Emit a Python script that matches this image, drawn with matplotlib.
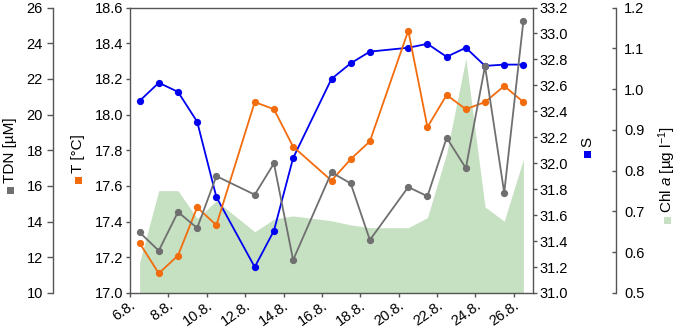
import matplotlib
matplotlib.use("Agg")
import matplotlib.pyplot as plt
from matplotlib.patches import Rectangle

plt.rcParams['font.family'] = ['Liberation Sans', 'DejaVu Sans']
plt.rcParams['mathtext.fontset'] = 'custom'
plt.rcParams['mathtext.rm'] = 'Liberation Sans'
plt.rcParams['mathtext.it'] = 'Liberation Sans:italic'

# sampling days (August), each plotted in the middle of its day slot
days = [6, 7, 8, 9, 10, 12, 13, 14, 16, 17, 18, 20, 21, 22, 23, 24, 25, 26]

salinity = [32.48, 32.62, 32.55, 32.32, 31.74, 31.20, 31.48, 32.04, 32.65,
            32.77, 32.86, 32.89, 32.92, 32.82, 32.89, 32.75, 32.76, 32.76]
temperature = [17.28, 17.11, 17.21, 17.48, 17.38, 18.07, 18.03, 17.82, 17.63,
               17.75, 17.85, 18.47, 17.93, 18.11, 18.03, 18.07, 18.16, 18.07]
tdn = [13.4, 12.37, 14.54, 13.64, 16.55, 15.51, 17.26, 11.85, 16.76,
       16.14, 12.97, 15.94, 15.42, 18.70, 17.00, 22.71, 15.62, 25.25]
chl = [0.575, 0.751, 0.751, 0.683, 0.726, 0.650, 0.681, 0.689, 0.677,
       0.667, 0.660, 0.660, 0.685, 0.842, 1.075, 0.711, 0.676, 0.828]

tick_days = [6, 8, 10, 12, 14, 16, 18, 20, 22, 24, 26]
tick_labels = [f"{d}.8." for d in tick_days]

C_BLUE = '#0000f0'
C_ORANGE = '#f26c0d'
C_GRAY = '#6f6f6f'
C_GREEN = '#c6e0c2'
C_SPINE = '#555555'

W, H = 680, 328
fig = plt.figure(figsize=(6.8, 3.28), dpi=100)
L, R, T, B = 130, 533, 7.5, 293
rect = [L / W, 1 - B / H, (R - L) / W, (B - T) / H]

ax_t = fig.add_axes(rect)
ax_chl = ax_t.twinx()
ax_s = ax_t.twinx()
ax_tdn = ax_t.twinx()

ax_chl.set_zorder(1)
ax_s.set_zorder(2)
ax_t.set_zorder(3)
ax_tdn.set_zorder(4)
for a in (ax_t, ax_chl, ax_s, ax_tdn):
    a.patch.set_visible(False)
    for sp in a.spines.values():
        sp.set_visible(False)
        sp.set_color(C_SPINE)
        sp.set_linewidth(1.0)

x = [d + 0.5 for d in days]
mk = dict(marker='o', markersize=4.2, linewidth=1.3)

ax_chl.fill_between(x, 0.5, chl, color=C_GREEN, linewidth=0)
ax_s.plot(x, salinity, color=C_BLUE, **mk)
ax_t.plot(x, temperature, color=C_ORANGE, **mk)
ax_tdn.plot(x, tdn, color=C_GRAY, **mk)

ax_t.set_xlim(6, 27)
ax_t.set_xticks(tick_days)
ax_t.set_xticklabels(tick_labels, rotation=35, ha='right', rotation_mode='anchor')

# T axis (left, inner)
ax_t.set_ylim(17.0, 18.6)
ax_t.set_yticks([17.0 + 0.2 * i for i in range(9)])
ax_t.yaxis.set_major_formatter(matplotlib.ticker.FormatStrFormatter('%.1f'))
ax_t.spines['left'].set_visible(True)
ax_t.spines['bottom'].set_visible(True)
ax_t.spines['top'].set_visible(True)
ax_t.tick_params(axis='y', direction='out', length=3, width=1, color=C_SPINE,
                 labelsize=10.5, pad=2)
ax_t.tick_params(axis='x', direction='out', length=3, width=1, color=C_SPINE,
                 labelsize=10.5, pad=1)

# TDN axis (left, outer)
ax_tdn.set_ylim(10, 26)
ax_tdn.set_yticks(range(10, 27, 2))
ax_tdn.yaxis.set_ticks_position('left')
ax_tdn.spines['left'].set_visible(True)
ax_tdn.spines['left'].set_position(('axes', (52.5 - L) / (R - L)))
ax_tdn.tick_params(axis='y', which='both', left=True, right=False,
                   labelleft=True, labelright=False, direction='out',
                   length=4, width=1, color=C_SPINE, labelsize=10.5, pad=3)

# S axis (right, inner)
ax_s.set_ylim(31.0, 33.2)
ax_s.set_yticks([31.0 + 0.2 * i for i in range(12)])
ax_s.yaxis.set_major_formatter(matplotlib.ticker.FormatStrFormatter('%.1f'))
ax_s.spines['right'].set_visible(True)
ax_s.tick_params(axis='y', direction='out', length=3, width=1, color=C_SPINE,
                 labelsize=10.5, pad=2)

# Chl a axis (right, outer)
ax_chl.set_ylim(0.5, 1.2)
ax_chl.set_yticks([0.5 + 0.1 * i for i in range(8)])
ax_chl.yaxis.set_major_formatter(matplotlib.ticker.FormatStrFormatter('%.1f'))
ax_chl.spines['right'].set_visible(True)
ax_chl.spines['right'].set_position(('axes', (616 - L) / (R - L)))
ax_chl.tick_params(axis='y', direction='in', length=3, width=1, color=C_SPINE,
                   labelsize=10.5, pad=6)


def fx(px):
    return px / W


def fy(py):
    return 1 - py / H


# axis titles with coloured square keys (pixel positions from top-left)
titles = [
    ("TDN [µM]", 10, 183, C_GRAY),
    ("T [°C]", 78, 173, C_ORANGE),
    ("S", 587, 147, C_BLUE),
    (r"Chl $\mathit{a}$ [µg l$^{-1}$]", 667, 213, C_GREEN),
]
sq = 7
for text, px, py, col in titles:
    fig.text(fx(px), fy(py), text, rotation=90, ha='center', va='bottom',
             fontsize=11)
    fig.patches.append(Rectangle((fx(px - sq / 2), fy(py + 3.5 + sq)),
                                 sq / W, sq / H, transform=fig.transFigure,
                                 facecolor=col, edgecolor='none', figure=fig))

fig.savefig('out.png', dpi=100)
